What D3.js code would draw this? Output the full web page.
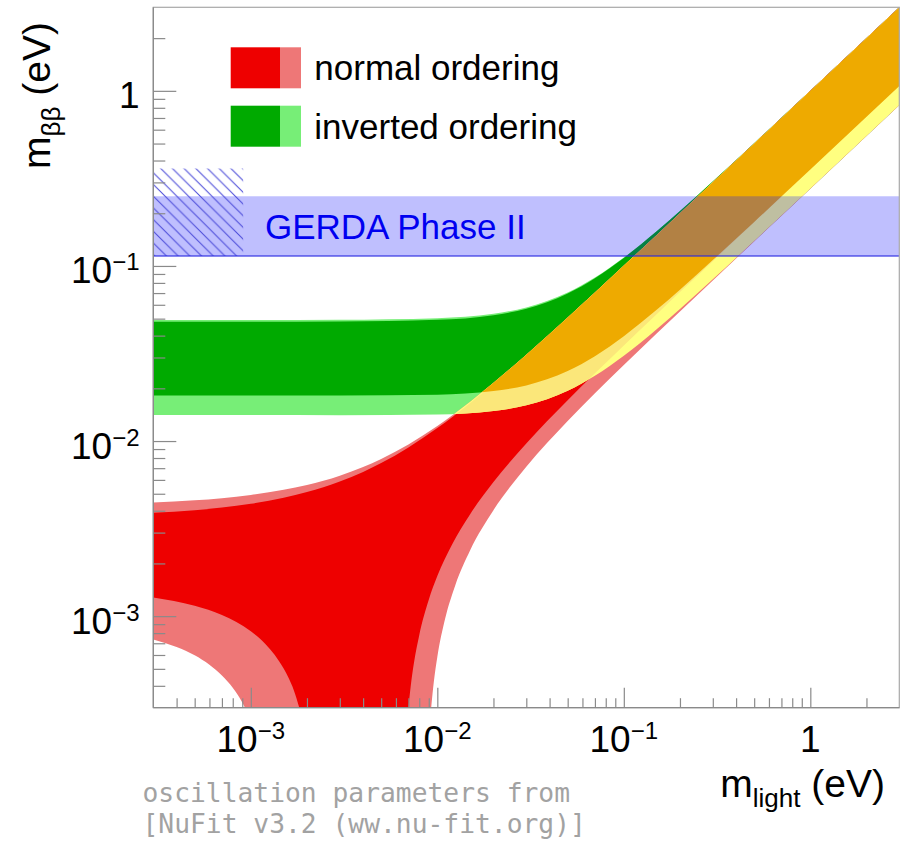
<!DOCTYPE html>
<html>
<head>
<meta charset="utf-8">
<script src="https://cdn.jsdelivr.net/npm/d3@7"></script>
<style>
  html, body { margin: 0; padding: 0; background: #ffffff; }
  svg { display: block; font-family: "Liberation Sans", Arial, Helvetica, sans-serif; }
</style>
</head>
<body>
<svg id="chart" width="905" height="841"></svg>
<script>
// Effective Majorana mass m_bb (eV) versus lightest neutrino mass m_light (eV).
// Each boundary is a list of [m_light, m_bb] pairs.

// Normal ordering, best-fit parameters
const noBestUpper = [[3e-4,0.003889],[5e-4,0.004028],[7e-4,0.004167],[1e-3,0.00438],[1.5e-3,0.00474],
  [2e-3,0.005109],[3e-3,0.005872],[4e-3,0.006664],[5e-3,0.007483],[7e-3,0.009185],[1e-2,0.011861],
  [1.5e-2,0.016507],[2e-2,0.021277],[3e-2,0.030985],[5e-2,0.050675],[7e-2,0.070508],[0.1,0.100367],
  [0.2,0.200183],[0.5,0.500057],[1,1.0],[3,3.0]];
const noBestLowerLeft = [[3e-4,0.001279],[5e-4,0.001146],[7e-4,0.001015],[1e-3,0.00082],[1.2e-3,0.000692],
  [1.5e-3,0.000502],[1.6e-3,0.00044],[1.7e-3,0.000378],[1.82e-3,0.0003]];
const noBestLowerRight = [[7e-3,0.0003],[7.2e-3,0.000398],[7.5e-3,0.000543],[8e-3,0.000779],[9e-3,0.001242],
  [1e-2,0.001693],[1.2e-2,0.002567],[1.5e-2,0.003825],[2e-2,0.005831],[3e-2,0.009677],[5e-2,0.017095],
  [7e-2,0.02437],[0.1,0.035173],[0.15,0.053063],[0.2,0.070897],[0.3,0.106504],[0.5,0.177643],
  [1,0.355402],[3,1.066307]];

// Normal ordering, 3 sigma ranges
const noRangeUpper = [[3e-4,0.004457],[5e-4,0.004587],[7e-4,0.00472],[1e-3,0.004921],[1.5e-3,0.005263],
  [2e-3,0.005615],[3e-3,0.006345],[4e-3,0.007108],[5e-3,0.007899],[7e-3,0.009556],[1e-2,0.012176],
  [1.5e-2,0.016762],[2e-2,0.021492],[3e-2,0.031151],[5e-2,0.050789],[7e-2,0.070597],[0.1,0.100433],
  [0.2,0.200223],[0.5,0.50007],[1,1.00005],[3,3.0002]];
const noRangeLowerLeft = [[3e-4,0.000736],[4e-4,0.000666],[5e-4,0.000597],[6e-4,0.000527],[7e-4,0.000458],
  [8e-4,0.00039],[9e-4,0.000321],[9.3e-4,0.0003]];
const noRangeLowerRight = [[9.27e-3,0.0003],[9.6e-3,0.000431],[1e-2,0.000585],[1.1e-2,0.000962],
  [1.25e-2,0.001508],[1.5e-2,0.002381],[2e-2,0.004031],[3e-2,0.007133],[5e-2,0.013018],[7e-2,0.018733],
  [0.1,0.027181],[0.15,0.041126],[0.2,0.055005],[0.3,0.082693],[0.5,0.13798],[1,0.276098],[3,0.828405]];

// Inverted ordering, best-fit parameters
const ioBestUpper = [[3e-4,0.048045],[1e-3,0.048067],[3e-3,0.048191],[1e-2,0.049243],[2e-2,0.052307],
  [3e-2,0.05695],[5e-2,0.06965],[7e-2,0.085175],[0.1,0.111162],[0.15,0.157666],[0.2,0.205814],
  [0.3,0.303907],[0.5,0.502354],[1,1.00118],[3,3.000393]];
const ioBestLower = [[3e-4,0.018225],[1e-3,0.018211],[3e-3,0.018197],[1e-2,0.018393],[2e-2,0.019285],
  [3e-2,0.02079],[5e-2,0.025123],[7e-2,0.030537],[0.1,0.039682],[0.15,0.056132],[0.2,0.073198],
  [0.3,0.107999],[0.5,0.178448],[1,0.35558],[3,1.065567]];

// Inverted ordering, 3 sigma ranges
const ioRangeUpper = [[3e-4,0.049174],[1e-3,0.049197],[3e-3,0.049315],[1e-2,0.050336],[2e-2,0.053331],
  [3e-2,0.057888],[5e-2,0.070417],[7e-2,0.0858],[0.1,0.111646],[0.15,0.158006],[0.2,0.206073],
  [0.3,0.304083],[0.5,0.502461],[1,1.001233],[3,3.000412]];
const ioRangeLower = [[3e-4,0.014086],[1e-3,0.014072],[3e-3,0.014048],[1e-2,0.014164],[2e-2,0.01483],
  [3e-2,0.015991],[5e-2,0.019369],[7e-2,0.023598],[0.1,0.030731],[0.15,0.043539],[0.2,0.056813],
  [0.3,0.083871],[0.5,0.138619],[1,0.27625],[3,0.82787]];

// GERDA Phase II limit band and the hatched range
const gerdaBand = [0.114, 0.25];
const hatchMLight = [3e-4, 9.1e-4];
const hatchMbb = [0.114, 0.36];

// Axes
const axisDomain = [3e-4, 3];
const majorTicks = [1e-3, 1e-2, 1e-1, 1];
const tickLabels = [["10", "\u22123"], ["10", "\u22122"], ["10", "\u22121"], ["1", ""]];
const legendLabels = ["normal ordering", "inverted ordering"];
const gerdaLabel = "GERDA Phase II";
const noteLines = ["oscillation parameters from", "[NuFit v3.2 (ww.nu-fit.org)]"];

// ---- styles ----
const COL = {
  noBest: "#ee0000", noRange: "#ee7777",
  ioBest: "#00aa00", ioRange: "#77ee77",
  bestOverlap: "#eeaa00", ioRangeOnNoBest: "#fbe77a", rangeOverlap: "#ffff80",
  gerda: "rgba(20,20,250,0.27)", gerdaLine: "rgba(40,40,225,0.75)", hatch: "#4a4ad8",
  axis: "#8a8a8a", frame: "#a8a8a8"
};

const svg = d3.select("#chart");
const x = d3.scaleLog().domain(axisDomain).range([153.3, 899.3]);
const y = d3.scaleLog().domain(axisDomain).range([707.7, 7.3]);
const [x0, x1] = x.range();
const [yB, yT] = y.range();

const defs = svg.append("defs");
defs.append("clipPath").attr("id", "plot-clip")
  .append("rect").attr("x", x0).attr("y", yT).attr("width", x1 - x0).attr("height", yB - yT);

const curve = d3.line().x(d => x(d[0])).y(d => y(d[1])).curve(d3.curveMonotoneX);

// Closed region: upper edge left to right, then lower branches right to left
function region(upper, lowerBranches) {
  let d = curve(upper);
  lowerBranches.slice().reverse().forEach(b => {
    d += curve(b.slice().reverse()).replace(/^M/, "L");
  });
  return d + "Z";
}

const noBestPath = region(noBestUpper, [noBestLowerLeft, noBestLowerRight]);
const noRangePath = region(noRangeUpper, [noRangeLowerLeft, noRangeLowerRight]);
const ioBestPath = region(ioBestUpper, [ioBestLower]);
const ioRangePath = region(ioRangeUpper, [ioRangeLower]);

defs.append("clipPath").attr("id", "clip-no-range").append("path").attr("d", noRangePath);
defs.append("clipPath").attr("id", "clip-no-best").append("path").attr("d", noBestPath);

const bands = svg.append("g").attr("clip-path", "url(#plot-clip)");
bands.append("path").attr("d", ioRangePath).attr("fill", COL.ioRange);
bands.append("path").attr("d", ioBestPath).attr("fill", COL.ioBest);
bands.append("path").attr("d", noRangePath).attr("fill", COL.noRange);
bands.append("path").attr("d", noBestPath).attr("fill", COL.noBest);
// overlaps of the two orderings
bands.append("path").attr("d", ioRangePath).attr("fill", COL.rangeOverlap).attr("clip-path", "url(#clip-no-range)");
bands.append("path").attr("d", ioRangePath).attr("fill", COL.ioRangeOnNoBest).attr("clip-path", "url(#clip-no-best)");
bands.append("path").attr("d", ioBestPath).attr("fill", COL.bestOverlap).attr("clip-path", "url(#clip-no-range)");

// GERDA band
const pat = defs.append("pattern").attr("id", "hatch").attr("patternUnits", "userSpaceOnUse")
  .attr("width", 11.7).attr("height", 11.7).attr("x", 4).attr("y", 0);
pat.append("line").attr("x1", -1).attr("y1", -1).attr("x2", 12.7).attr("y2", 12.7)
  .attr("stroke", COL.hatch).attr("stroke-width", 1);
pat.append("line").attr("x1", -12.7).attr("y1", -1).attr("x2", 1).attr("y2", 12.7)
  .attr("stroke", COL.hatch).attr("stroke-width", 1);
pat.append("line").attr("x1", 10.7).attr("y1", -1).attr("x2", 24.4).attr("y2", 12.7)
  .attr("stroke", COL.hatch).attr("stroke-width", 1);

const over = svg.append("g").attr("clip-path", "url(#plot-clip)");
over.append("rect")
  .attr("x", x0).attr("width", x1 - x0)
  .attr("y", y(gerdaBand[1])).attr("height", y(gerdaBand[0]) - y(gerdaBand[1]))
  .attr("fill", COL.gerda);
over.append("rect")
  .attr("x", x(hatchMLight[0])).attr("width", x(hatchMLight[1]) - x(hatchMLight[0]))
  .attr("y", y(hatchMbb[1])).attr("height", y(hatchMbb[0]) - y(hatchMbb[1]))
  .attr("fill", "url(#hatch)");
over.append("line")
  .attr("x1", x0).attr("x2", x1).attr("y1", y(gerdaBand[0])).attr("y2", y(gerdaBand[0]))
  .attr("stroke", COL.gerdaLine).attr("stroke-width", 1.6);

svg.append("text").attr("x", 265).attr("y", 238.5).attr("font-size", 35).attr("fill", "#0000f0")
  .text(gerdaLabel);

// Legend
const legendColors = [[COL.noBest, COL.noRange], [COL.ioBest, COL.ioRange]];
legendLabels.forEach((lab, i) => {
  const top = 47.3 + i * 58.4;
  svg.append("rect").attr("x", 230.7).attr("y", top).attr("width", 49.3).attr("height", 41)
    .attr("fill", legendColors[i][0]);
  svg.append("rect").attr("x", 280).attr("y", top).attr("width", 21).attr("height", 41)
    .attr("fill", legendColors[i][1]);
  svg.append("text").attr("x", 314.3).attr("y", top + 33).attr("font-size", 35).attr("fill", "#000")
    .text(lab);
});

// Frame
svg.append("rect").attr("x", x0).attr("y", yT).attr("width", x1 - x0).attr("height", yB - yT)
  .attr("fill", "none").attr("stroke", COL.frame).attr("stroke-width", 1.2);

// Ticks (inside the frame, left and bottom)
const minorTicks = [];
for (let e = -4; e <= 0; e++) {
  for (let k = 2; k <= 9; k++) {
    const v = k * Math.pow(10, e);
    if (v > axisDomain[0] * 1.001 && v < axisDomain[1] * 0.999) minorTicks.push(v);
  }
}
function styleAxis(g) {
  g.select(".domain").remove();
  g.selectAll(".tick line").attr("stroke", COL.axis).attr("stroke-width", 1.2);
  g.selectAll(".tick text").remove();
}
svg.append("g").attr("transform", `translate(${x0},0)`)
  .call(d3.axisRight(y).tickValues(minorTicks).tickSize(12).tickFormat(() => "")).call(styleAxis);
svg.append("g").attr("transform", `translate(${x0},0)`)
  .call(d3.axisRight(y).tickValues(majorTicks).tickSize(23).tickFormat(() => "")).call(styleAxis);
svg.append("g").attr("transform", `translate(0,${yB})`)
  .call(d3.axisTop(x).tickValues(minorTicks).tickSize(9.5).tickFormat(() => "")).call(styleAxis);
svg.append("g").attr("transform", `translate(0,${yB})`)
  .call(d3.axisTop(x).tickValues(majorTicks).tickSize(20).tickFormat(() => "")).call(styleAxis);
svg.append("line").attr("x1", x0).attr("x2", x0).attr("y1", yT).attr("y2", yB)
  .attr("stroke", COL.axis).attr("stroke-width", 1.3);
svg.append("line").attr("x1", x0).attr("x2", x1).attr("y1", yB).attr("y2", yB)
  .attr("stroke", COL.axis).attr("stroke-width", 1.3);

// Tick labels with superscript exponents
function writeLabel(t, parts) {
  t.append("tspan").text(parts[0]);
  if (parts[1]) t.append("tspan").attr("font-size", 24).attr("dy", -13).text(parts[1]);
}
majorTicks.forEach((v, i) => {
  const tx = svg.append("text").attr("x", x(v)).attr("y", 751.7).attr("font-size", 37)
    .attr("text-anchor", "middle").attr("fill", "#000");
  writeLabel(tx, tickLabels[i]);
  const ty = svg.append("text").attr("x", 139.5).attr("y", y(v) + 17.5).attr("font-size", 37)
    .attr("text-anchor", "end").attr("fill", "#000");
  writeLabel(ty, tickLabels[i]);
});

// Axis titles
const xt = svg.append("text").attr("x", 885).attr("y", 796.7).attr("font-size", 39)
  .attr("text-anchor", "end").attr("fill", "#000");
xt.append("tspan").text("m");
xt.append("tspan").attr("font-size", 26).attr("dy", 10).text("light");
xt.append("tspan").attr("dy", -10).text(" (eV)");

const yt = svg.append("text").attr("transform", "translate(50,22) rotate(-90)")
  .attr("font-size", 39).attr("text-anchor", "end").attr("fill", "#000");
yt.append("tspan").text("m");
yt.append("tspan").attr("font-size", 26).attr("dy", 10).text("\u03b2\u03b2");
yt.append("tspan").attr("dy", -10).text(" (eV)");

// Note on the oscillation parameters
noteLines.forEach((line, i) => {
  svg.append("text").attr("x", 142.5).attr("y", 801.7 + i * 31.5)
    .attr("font-family", "'DejaVu Sans Mono', 'Liberation Mono', monospace")
    .attr("font-size", 26.3).attr("fill", "#a2a2a2").text(line);
});
</script>
</body>
</html>
